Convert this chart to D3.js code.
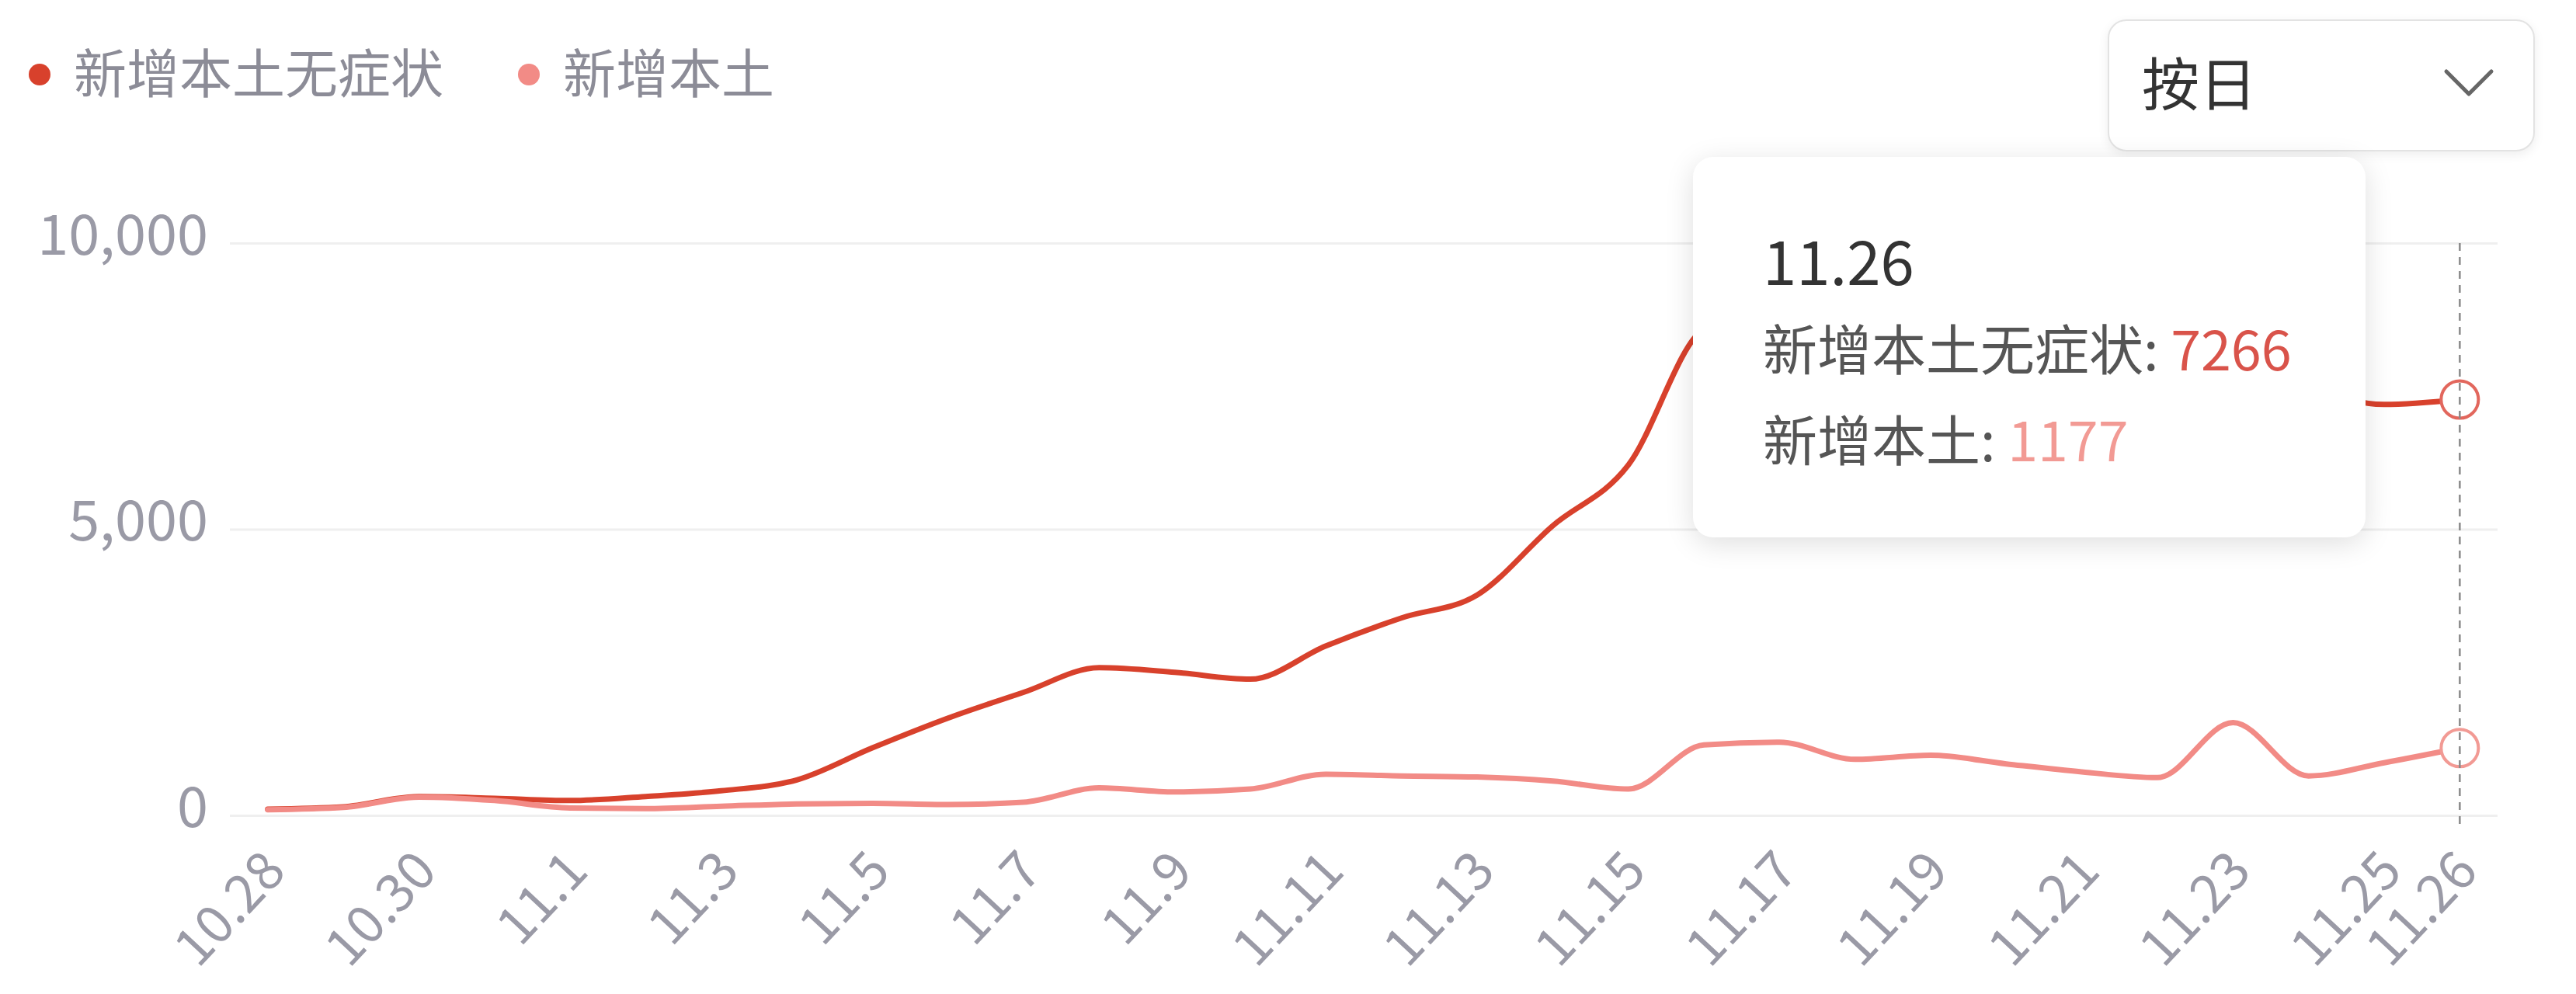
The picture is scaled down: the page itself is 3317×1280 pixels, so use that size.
<!DOCTYPE html>
<html>
<head>
<meta charset="utf-8">
<script src="https://cdn.jsdelivr.net/npm/d3@7"></script>
<style>
  html, body { margin: 0; padding: 0; background: #ffffff; }
  body { width: 3317px; height: 1280px; position: relative; overflow: hidden;
         font-family: "Noto Sans CJK SC", "Noto Sans", sans-serif; }
  #chart { position: absolute; left: 0; top: 0; }
  .tip { position: absolute; background: #fff; border-radius: 26px;
         box-shadow: 0 8px 36px rgba(0,0,0,0.13); }
  .tip div { position: absolute; white-space: nowrap; line-height: 1; }
  .dd { position: absolute; background: #fff; border: 2px solid #e3e3e3; border-radius: 24px;
        box-shadow: 0 4px 14px rgba(0,0,0,0.07); box-sizing: border-box; }
</style>
</head>
<body>
<svg id="chart" width="3317" height="1280"></svg>
<script>
// ---- data ----
const dates = ["10.28","10.29","10.30","10.31","11.1","11.2","11.3","11.4","11.5","11.6",
  "11.7","11.8","11.9","11.10","11.11","11.12","11.13","11.14","11.15","11.16",
  "11.17","11.18","11.19","11.20","11.21","11.22","11.23","11.24","11.25","11.26"];
const asymptomatic = [110,150,330,300,260,330,430,620,1180,1700,
  2150,2580,2500,2380,2960,3450,3850,5060,6120,8500,
  8900,8700,8500,8300,8000,7800,8200,7500,7180,7266];
const confirmed = [100,140,320,260,130,120,160,200,210,190,
  230,480,410,460,720,690,670,600,460,1230,
  1280,980,1050,900,760,660,1620,690,920,1177];
const xTickLabels = ["10.28","10.30","11.1","11.3","11.5","11.7","11.9","11.11","11.13",
  "11.15","11.17","11.19","11.21","11.23","11.25","11.26"];
const yTickValues = [0, 5000, 10000];
const seriesNames = ["新增本土无症状", "新增本土"];
const seriesColors = ["#d8412c", "#f28b86"];
const markerColors = ["#e2675d", "#f29a94"];
const selectorLabel = "按日";
const focusIndex = 29;

// ---- layout ----
const svg = d3.select("#chart");
const x = d3.scalePoint().domain(dates).range([296, 3216]).padding(0.5);
const y = d3.scaleLinear().domain([0, 10000]).range([1050, 313]);
const font = '"Noto Sans CJK SC", "Noto Sans", sans-serif';

// gridlines
const grid = svg.append("g").attr("transform", "translate(296,0)")
  .call(d3.axisLeft(y).tickValues(yTickValues).tickSize(-2920).tickFormat(""));
grid.select(".domain").remove();
grid.selectAll("line").attr("stroke", "#efefef").attr("stroke-width", 3);

// y axis labels
const yAx = svg.append("g").attr("transform", "translate(268,0)")
  .call(d3.axisLeft(y).tickValues(yTickValues).tickSize(0).tickPadding(0).tickFormat(d3.format(",")));
yAx.select(".domain").remove();
yAx.selectAll("text").attr("font-family", font).attr("font-size", 72)
  .attr("fill", "#9a9aa6").attr("dy", "0.28em").attr("y", -6);

// x axis labels
const xAx = svg.append("g").attr("transform", "translate(0,1050)")
  .call(d3.axisBottom(x).tickValues(xTickLabels).tickSize(0).tickPadding(0));
xAx.select(".domain").remove();
xAx.selectAll("text").attr("font-family", font).attr("font-size", 68)
  .attr("fill", "#9a9aa6").attr("text-anchor", "end").attr("dy", null)
  .attr("y", null).attr("dominant-baseline", "central")
  .attr("transform", "translate(4,54) rotate(-47)");

// lines
const line = d3.line().x((d, i) => x(dates[i])).y(d => y(d)).curve(d3.curveMonotoneX);
[asymptomatic, confirmed].forEach((vals, k) => {
  svg.append("path").datum(vals).attr("d", line).attr("fill", "none")
    .attr("stroke", seriesColors[k]).attr("stroke-width", 7)
    .attr("stroke-linejoin", "round").attr("stroke-linecap", "round");
});

// focus markers
[asymptomatic, confirmed].forEach((vals, k) => {
  svg.append("circle").attr("cx", x(dates[focusIndex])).attr("cy", y(vals[focusIndex]))
    .attr("r", 24).attr("fill", "#fff").attr("stroke", markerColors[k])
    .attr("stroke-width", 4);
});
svg.append("line").attr("x1", x(dates[focusIndex])).attr("x2", x(dates[focusIndex]))
  .attr("y1", y(10000)).attr("y2", 1064).attr("stroke", "#8a8a8a")
  .attr("stroke-width", 2.5).attr("stroke-dasharray", "10,8");

// legend
const legendX = [51, 681];
seriesNames.forEach((name, k) => {
  svg.append("circle").attr("cx", legendX[k]).attr("cy", 96).attr("r", 14).attr("fill", seriesColors[k]);
  svg.append("text").attr("x", legendX[k] + 44).attr("y", 96).attr("dy", "0.36em")
    .attr("font-family", font).attr("font-size", 68).attr("fill", "#8c8c97").text(name);
});

// dropdown selector
const dd = d3.select("body").append("div").attr("class", "dd")
  .style("left", "2714px").style("top", "25px").style("width", "550px").style("height", "170px");
dd.append("div").style("position", "absolute").style("left", "42px").style("top", "40px")
  .style("font-size", "74px").style("line-height", "1").style("color", "#333").text(selectorLabel);

// tooltip
const tip = d3.select("body").append("div").attr("class", "tip")
  .style("left", "2180px").style("top", "202px").style("width", "866px").style("height", "490px");
tip.append("div").style("left", "90px").style("top", "92px").style("font-size", "78px")
  .style("color", "#333").text(dates[focusIndex]);
const vals = [asymptomatic, confirmed];
const valColors = ["#d9534a", "#f29a94"];
seriesNames.forEach((name, k) => {
  const row = tip.append("div").style("left", "90px").style("top", (210 + k * 117) + "px")
    .style("font-size", "70px").style("color", "#555");
  row.append("span").text(name + ": ");
  row.append("span").style("color", valColors[k]).text(vals[k][focusIndex]);
});

// dropdown arrow on top
const arrow = d3.select("body").append("svg").style("position", "absolute")
  .style("left", "0px").style("top", "0px").attr("width", 3317).attr("height", 260)
  .style("pointer-events", "none");
arrow.append("polyline").attr("points", "3150,92 3179,121 3208,92")
  .attr("fill", "none").attr("stroke", "#666").attr("stroke-width", 5)
  .attr("stroke-linecap", "round").attr("stroke-linejoin", "round");
</script>
</body>
</html>
